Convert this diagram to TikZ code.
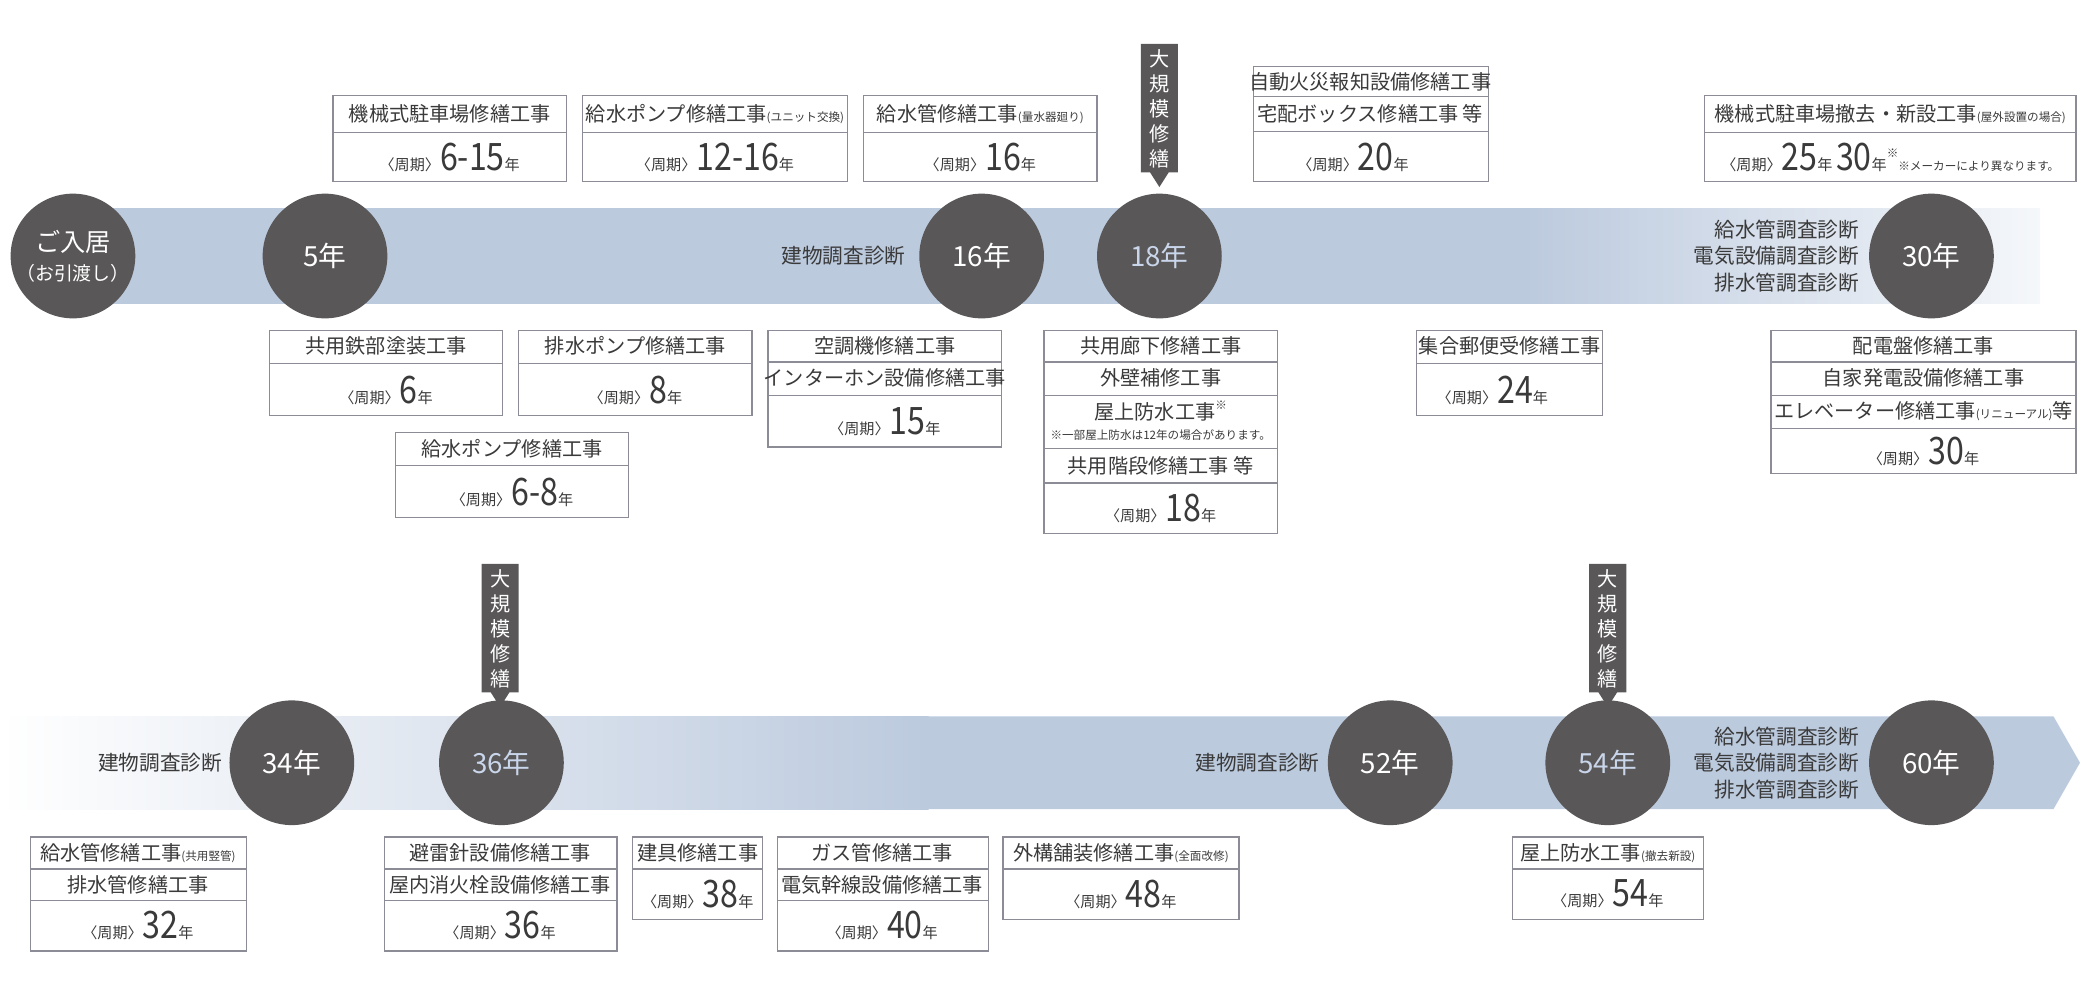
\documentclass[tikz,border=0pt]{standalone}
\usepackage{fontspec}
\setmainfont{Liberation Serif}
\newfontfamily\cjk{Noto Sans CJK JP}[Scale=0.95]
\usetikzlibrary{shapes.geometric}
\definecolor{band}{HTML}{BCCADE}
\definecolor{circ}{HTML}{595757}
\definecolor{lb}{HTML}{C9D5EA}
\definecolor{bd}{HTML}{8C8C96}
\definecolor{tx}{HTML}{3A3A3A}
\newcommand\per[1]{{\cjk\fontsize{6}{6}\selectfont 〈周期〉}{\fontsize{15}{15}\selectfont\scalebox{0.85}[1]{#1}}{\cjk\fontsize{6}{6}\selectfont 年}}
\newcommand\sm[1]{{\cjk\fontsize{4.6}{5}\selectfont #1}}
\newcommand\bline[3]{\draw[bd,line width=0.5pt] (#1,#3) -- (#2,#3);}
\begin{document}
\begin{tikzpicture}[x=0.5pt,y=-0.5pt,
  bx/.style={draw=bd,line width=0.5pt},
  t/.style={text=tx,font=\cjk\fontsize{8}{10}\selectfont,inner sep=0},
  lab/.style={text=tx,font=\cjk\fontsize{8.2}{10}\selectfont,inner sep=0,align=right,anchor=east},
  ci/.style={circle,fill=circ,minimum size=47pt,inner sep=0,text=white,font=\cjk\fontsize{11}{13}\selectfont},
  cl/.style={ci,text=lb},
  mk/.style={fill=circ,draw=none}]
\useasboundingbox (0,0) rectangle (1568,742);
% band 1
\fill[band] (55,157) rectangle (1150,229);
\shade[left color=band,right color=band!15] (1149,157) rectangle (2040/1.3265,229);
% band 2
\shade[left color=white,right color=band] (0,540) rectangle (700,610);
\fill[band] (699,540) -- (1548,540) -- (1568,575) -- (1548,610) -- (699,610) -- cycle;
% markers
\foreach \mx/\my/\nm in {874/33/m1,377/425/m2,1212/425/m3}{
  \fill[mk] (\mx-14,\my) -- (\mx+14,\my) -- (\mx+14,\my+97) -- (\mx+7,\my+97) -- (\mx,\my+108) -- (\mx-7,\my+97) -- (\mx-14,\my+97) -- cycle;
  \node[text=white,font=\cjk\fontsize{8}{9.4}\selectfont,inner sep=0,align=center] (\nm) at (\mx,\my+49) {大\\規\\模\\修\\繕};
}
% circles row 1
\node[ci,font=\cjk\fontsize{10}{12}\selectfont,align=center] (c0) at (55,193) {ご入居\\[-1pt]{\fontsize{7.5}{9}\selectfont （お引渡し）}};
\node[ci] (c5) at (245,193) {5年};
\node[ci] (c16) at (740,193) {16年};
\node[cl] (c18) at (874,193) {18年};
\node[ci] (c30) at (1456,193) {30年};
\node[lab] (l16) at (683,193) {建物調査診断};
\node[lab] (l30) at (1402,193) {給水管調査診断\\電気設備調査診断\\排水管調査診断};
% circles row 2
\node[ci] (c34) at (220,575) {34年};
\node[cl] (c36) at (378,575) {36年};
\node[ci] (c52) at (1048,575) {52年};
\node[cl] (c54) at (1212,575) {54年};
\node[ci] (c60) at (1456,575) {60年};
\node[lab] (l34) at (168,575) {建物調査診断};
\node[lab] (l52) at (995,575) {建物調査診断};
\node[lab] (l60) at (1402,575) {給水管調査診断\\電気設備調査診断\\排水管調査診断};
% ---- top boxes
\draw[bx] (251,72) rectangle (427,137); \bline{251}{427}{100}
\node[t] (a1) at (339,86) {機械式駐車場修繕工事};
\node[t] (a1p) at (339,119) {\per{6-15}};
\draw[bx] (439,72) rectangle (639,137); \bline{439}{639}{100}
\node[t] (a2) at (539,86) {給水ポンプ修繕工事\sm{(ユニット交換)}};
\node[t] (a2p) at (539,119) {\per{12-16}};
\draw[bx] (651,72) rectangle (827,137); \bline{651}{827}{100}
\node[t] (a3) at (739,86) {給水管修繕工事\sm{(量水器廻り)}};
\node[t] (a3p) at (739,119) {\per{16}};
\draw[bx] (945,50) rectangle (1122,137); \bline{945}{1122}{73}\bline{945}{1122}{99}
\node[t] (a4) at (1033,62) {自動火災報知設備修繕工事};
\node[t] (a4b) at (1033,86) {宅配ボックス修繕工事 等};
\node[t] (a4p) at (1020,119) {\per{20}};
\draw[bx] (1285,72) rectangle (1565,137); \bline{1285}{1565}{100}
\node[t] (a5) at (1425,86) {機械式駐車場撤去・新設工事\sm{(屋外設置の場合)}};
\node[t] (a5p) at (1425,119) {{\cjk\fontsize{6}{6}\selectfont 〈周期〉}{\fontsize{15}{15}\selectfont\scalebox{0.85}[1]{25}}{\cjk\fontsize{6}{6}\selectfont 年 }{\fontsize{15}{15}\selectfont\scalebox{0.85}[1]{30}}{\cjk\fontsize{6}{6}\selectfont 年}\raisebox{5pt}{\sm{※}}\sm{※メーカーにより異なります。}};
% ---- below band 1
\draw[bx] (203,249) rectangle (379,313); \bline{203}{379}{274}
\node[t] (b1) at (291,261) {共用鉄部塗装工事};
\node[t] (b1p) at (291,294) {\per{6}};
\draw[bx] (391,249) rectangle (567,313); \bline{391}{567}{274}
\node[t] (b2) at (479,261) {排水ポンプ修繕工事};
\node[t] (b2p) at (479,294) {\per{8}};
\draw[bx] (298,326) rectangle (474,390); \bline{298}{474}{351}
\node[t] (b3) at (386,338) {給水ポンプ修繕工事};
\node[t] (b3p) at (386,371) {\per{6-8}};
\draw[bx] (579,249) rectangle (755,337); \bline{579}{755}{273}\bline{579}{755}{298}
\node[t] (b4) at (667,261) {空調機修繕工事};
\node[t] (b4b) at (667,285) {インターホン設備修繕工事};
\node[t] (b4p) at (667,318) {\per{15}};
\draw[bx] (787,249) rectangle (963,402); \bline{787}{963}{273}\bline{787}{963}{298}\bline{787}{963}{338}\bline{787}{963}{364}
\node[t] (b5) at (875,261) {共用廊下修繕工事};
\node[t] (b5b) at (875,285) {外壁補修工事};
\node[t] (b5c) at (875,310) {屋上防水工事\raisebox{4pt}{\sm{※}}};
\node[t] (b5d) at (875,328) {\sm{※一部屋上防水は12年の場合があります。}};
\node[t] (b5e) at (875,351) {共用階段修繕工事 等};
\node[t] (b5p) at (875,383) {\per{18}};
\draw[bx] (1068,249) rectangle (1208,313); \bline{1068}{1208}{274}
\node[t] (b6) at (1138,261) {集合郵便受修繕工事};
\node[t] (b6p) at (1125,294) {\per{24}};
\draw[bx] (1335,249) rectangle (1565,357); \bline{1335}{1565}{273}\bline{1335}{1565}{298}\bline{1335}{1565}{323}
\node[t] (b7) at (1450,261) {配電盤修繕工事};
\node[t] (b7b) at (1450,285) {自家発電設備修繕工事};
\node[t] (b7c) at (1450,310) {エレベーター修繕工事\sm{(リニューアル)}等};
\node[t] (b7p) at (1450,340) {\per{30}};
% ---- bottom boxes
\draw[bx] (23,631) rectangle (186,717); \bline{23}{186}{655}\bline{23}{186}{679}
\node[t] (d1) at (104,643) {給水管修繕工事\sm{(共用竪管)}};
\node[t] (d1b) at (104,667) {排水管修繕工事};
\node[t] (d1p) at (104,698) {\per{32}};
\draw[bx] (290,631) rectangle (465,717); \bline{290}{465}{655}\bline{290}{465}{679}
\node[t] (d2) at (377,643) {避雷針設備修繕工事};
\node[t] (d2b) at (377,667) {屋内消火栓設備修繕工事};
\node[t] (d2p) at (377,698) {\per{36}};
\draw[bx] (477,631) rectangle (575,693); \bline{477}{575}{655}
\node[t] (d3) at (526,643) {建具修繕工事};
\node[t] (d3p) at (526,674) {\per{38}};
\draw[bx] (586,631) rectangle (745,717); \bline{586}{745}{655}\bline{586}{745}{679}
\node[t] (d4) at (665,643) {ガス管修繕工事};
\node[t] (d4b) at (665,667) {電気幹線設備修繕工事};
\node[t] (d4p) at (665,698) {\per{40}};
\draw[bx] (756,631) rectangle (934,693); \bline{756}{934}{655}
\node[t] (d5) at (845,643) {外構舗装修繕工事\sm{(全面改修)}};
\node[t] (d5p) at (845,674) {\per{48}};
\draw[bx] (1140,631) rectangle (1284,693); \bline{1140}{1284}{655}
\node[t] (d6) at (1212,643) {屋上防水工事\sm{(撤去新設)}};
\node[t] (d6p) at (1212,674) {\per{54}};
\end{tikzpicture}
\end{document}
